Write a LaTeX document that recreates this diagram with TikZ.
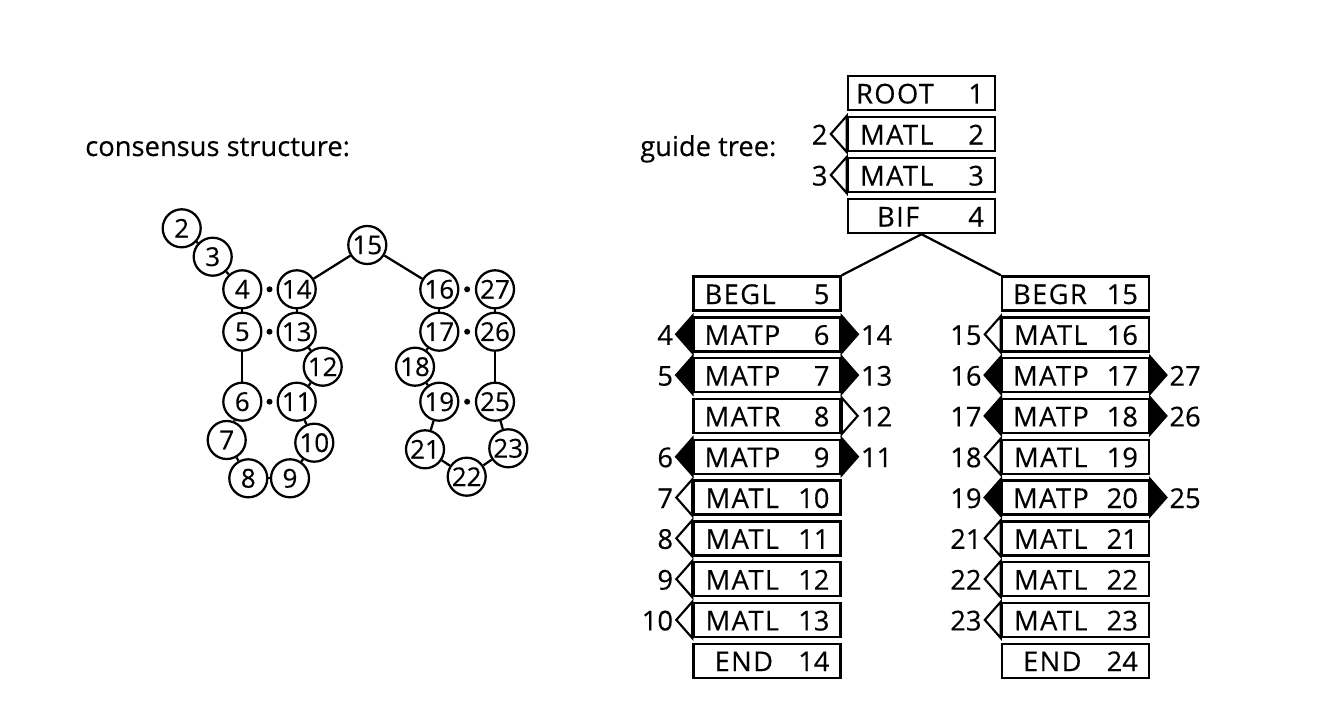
\documentclass[tikz,border=0pt]{standalone}
\usepackage{fontspec}
\setmainfont{Open Sans}[FakeBold=0.3]
\newfontfamily\circfont{Open Sans}[FakeBold=0.3]
\newfontfamily\namefont{Open Sans}[LetterSpace=5, FakeBold=0.3]
\usetikzlibrary{calc}
\tikzset{
  box/.style={draw, line width=1.8pt, minimum width=110.25pt, minimum height=25.5pt, inner sep=0pt, fill=white},
  lbl/.style={inner sep=0pt, font=\fontsize{20.5}{24}\selectfont},
  namelbl/.style={inner sep=0pt, font=\namefont\fontsize{20.5}{24}\selectfont},
  circ/.style={draw, circle, line width=1.7pt, minimum size=28.5pt, inner sep=0pt, fill=white, font=\circfont\fontsize{19.5}{22}\selectfont},
  conn/.style={line width=1.7pt},
  pairdot/.style={circle, fill=black, minimum size=4.5pt, inner sep=0pt},
  tfill/.style={draw=black, fill=black, line width=1.8pt, line join=miter},
  topen/.style={draw=black, fill=white, line width=1.6pt, line join=miter},
}
\newcommand\cmbox[6]{%
  \node[box] (#1) at (#2,#3) {};
  \node[namelbl, anchor=base west] (#1name) at ($(#1.west)+(#6,10.5)$) {#4};
  \node[lbl, anchor=base east] (#1num) at ($(#1.east)+(-12,10.5)$) {#5};
}
\newcommand\ltri[3]{%
  \draw[#2] (#1.north west) -- ($(#1.west)+(-16,0)$) coordinate (#1lt) -- (#1.south west) -- cycle;
  \node[lbl, anchor=base east] (#1ll) at ($(#1lt)+(-3,10.5)$) {#3};
}
\newcommand\rtri[3]{%
  \draw[#2] (#1.north east) -- ($(#1.east)+(16,0)$) coordinate (#1rt) -- (#1.south east) -- cycle;
  \node[lbl, anchor=base west] (#1rl) at ($(#1rt)+(3,10.5)$) {#3};
}
\begin{document}
\begin{tikzpicture}[x=0.75pt,y=-0.75pt]
\useasboundingbox (0,0) rectangle (1337,713);

% titles
\node[lbl, anchor=base west] (title1) at (85,156) {consensus structure:};
\node[lbl, anchor=base west] (title2) at (640,156) {guide tree:};

% ---------- consensus structure ----------
\node[circ] (c2) at (181.7,228.3) {2};
\node[circ] (c3) at (212.7,256.7) {3};
\node[circ] (c4) at (242.3,289.3) {4};
\node[circ] (c14) at (296.7,289.3) {14};
\node[circ] (c15) at (367.3,245) {15};
\node[circ] (c16) at (439.3,289.3) {16};
\node[circ] (c27) at (495,289.3) {27};
\node[circ] (c5) at (242.3,331.7) {5};
\node[circ] (c13) at (296.7,331.7) {13};
\node[circ] (c12) at (322.7,366.7) {12};
\node[circ] (c6) at (242.3,401.7) {6};
\node[circ] (c11) at (296.7,401.7) {11};
\node[circ] (c7) at (226.7,440) {7};
\node[circ] (c10) at (314.3,442.7) {10};
\node[circ] (c8) at (248.3,478.3) {8};
\node[circ] (c9) at (290,478.3) {9};
\node[circ] (c17) at (439.3,331.7) {17};
\node[circ] (c26) at (495,331.7) {26};
\node[circ] (c18) at (415,366.7) {18};
\node[circ] (c19) at (439.3,401.7) {19};
\node[circ] (c25) at (495,401.7) {25};
\node[circ] (c21) at (425,449.3) {21};
\node[circ] (c22) at (466.7,476.7) {22};
\node[circ] (c23) at (508.3,448.3) {23};

\foreach \a/\b in {2/3,3/4,4/5,5/6,6/7,7/8,8/9,9/10,10/11,11/12,12/13,13/14,14/15,15/16,16/17,17/18,18/19,19/21,21/22,22/23,23/25,25/26,26/27}
  \draw[conn] (c\a) -- (c\b);

\foreach \a/\b in {4/14,5/13,6/11,16/27,17/26,19/25}
  \node[pairdot] (d\a) at ($(c\a)!0.5!(c\b)$) {};

% ---------- guide tree ----------
\cmbox{b1}{921.5}{93}{ROOT}{1}{9}
\cmbox{b2}{921.5}{134}{MATL}{2}{13}
\cmbox{b3}{921.5}{175}{MATL}{3}{13}
\cmbox{b4}{921.5}{216}{BIF}{4}{30}
\ltri{b2}{topen}{2}
\ltri{b3}{topen}{3}

% left branch
\cmbox{b5}{767}{293.5}{BEGL}{5}{12}
\cmbox{b6}{767}{334.3}{MATP}{6}{12}
\cmbox{b7}{767}{375.1}{MATP}{7}{12}
\cmbox{b8}{767}{415.9}{MATR}{8}{12}
\cmbox{b9}{767}{456.7}{MATP}{9}{12}
\cmbox{b10}{767}{497.5}{MATL}{10}{13}
\cmbox{b11}{767}{538.3}{MATL}{11}{13}
\cmbox{b12}{767}{579.1}{MATL}{12}{13}
\cmbox{b13}{767}{619.9}{MATL}{13}{13}
\cmbox{b14}{767}{660.7}{END}{14}{22}
\ltri{b6}{tfill}{4}\rtri{b6}{tfill}{14}
\ltri{b7}{tfill}{5}\rtri{b7}{tfill}{13}
\rtri{b8}{topen}{12}
\ltri{b9}{tfill}{6}\rtri{b9}{tfill}{11}
\ltri{b10}{topen}{7}
\ltri{b11}{topen}{8}
\ltri{b12}{topen}{9}
\ltri{b13}{topen}{10}

% right branch
\cmbox{b15}{1075.5}{293.5}{BEGR}{15}{12}
\cmbox{b16}{1075.5}{334.3}{MATL}{16}{13}
\cmbox{b17}{1075.5}{375.1}{MATP}{17}{12}
\cmbox{b18}{1075.5}{415.9}{MATP}{18}{12}
\cmbox{b19}{1075.5}{456.7}{MATL}{19}{13}
\cmbox{b20}{1075.5}{497.5}{MATP}{20}{12}
\cmbox{b21}{1075.5}{538.3}{MATL}{21}{13}
\cmbox{b22}{1075.5}{579.1}{MATL}{22}{13}
\cmbox{b23}{1075.5}{619.9}{MATL}{23}{13}
\cmbox{b24}{1075.5}{660.7}{END}{24}{22}
\ltri{b16}{topen}{15}
\ltri{b17}{tfill}{16}\rtri{b17}{tfill}{27}
\ltri{b18}{tfill}{17}\rtri{b18}{tfill}{26}
\ltri{b19}{topen}{18}
\ltri{b20}{tfill}{19}\rtri{b20}{tfill}{25}
\ltri{b21}{topen}{21}
\ltri{b22}{topen}{22}
\ltri{b23}{topen}{23}

% bifurcation
\draw[conn] (b4.south) -- (b5.north east);
\draw[conn] (b4.south) -- (b15.north west);
\end{tikzpicture}
\end{document}
